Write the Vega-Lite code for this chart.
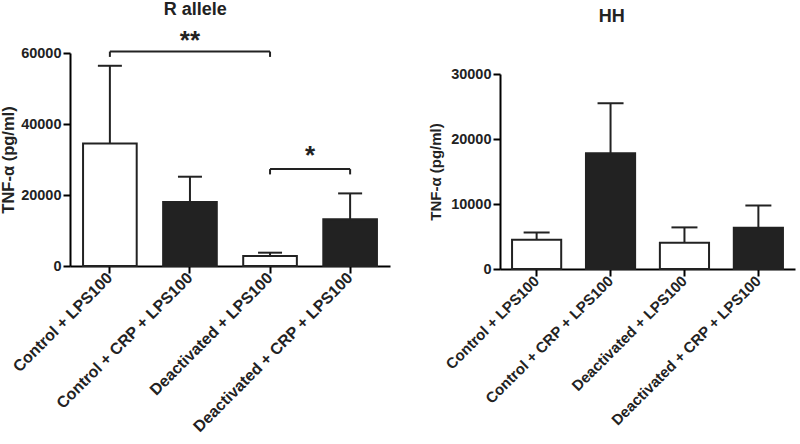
{
  "$schema": "https://vega.github.io/schema/vega-lite/v6.json",
  "padding": {"left": 0, "top": 0, "right": 2, "bottom": 2},
  "background": "white",
  "config": {
    "font": "Liberation Sans",
    "view": {"stroke": null},
    "axis": {"domainColor": "#000000", "tickColor": "#000000", "domainWidth": 2, "tickWidth": 2, "tickSize": 7, "grid": false, "labelColor": "#222222", "titleColor": "#222222", "labelFontWeight": "bold", "titleFontWeight": "bold", "labelFont": "Liberation Sans", "titleFont": "Liberation Sans", "labelLimit": 0},
    "title": {"font": "Liberation Sans", "fontWeight": "bold", "color": "#222222", "fontSize": 18, "frame": "bounds", "anchor": "middle"},
    "concat": {"spacing": 38}
  },
  "datasets": {
    "rallele": [
      {"group": "Control + LPS100", "crp": "no", "value": 34500, "err": 56400},
      {"group": "Control + CRP + LPS100", "crp": "yes", "value": 18000, "err": 25150},
      {"group": "Deactivated + LPS100", "crp": "no", "value": 2800, "err": 3750},
      {"group": "Deactivated + CRP + LPS100", "crp": "yes", "value": 13200, "err": 20450}
    ],
    "hh": [
      {"group": "Control + LPS100", "crp": "no", "value": 4500, "err": 5630},
      {"group": "Control + CRP + LPS100", "crp": "yes", "value": 17800, "err": 25500},
      {"group": "Deactivated + LPS100", "crp": "no", "value": 4040, "err": 6400},
      {"group": "Deactivated + CRP + LPS100", "crp": "yes", "value": 6350, "err": 9780}
    ],
    "brackets": [
      {"from": "Control + LPS100", "to": "Deactivated + LPS100", "y": 60400, "tip": 58900},
      {"from": "Deactivated + LPS100", "to": "Deactivated + CRP + LPS100", "y": 27300, "tip": 25800}
    ],
    "star2": [
      {"at": "Control + CRP + LPS100", "label": "**", "y": 61200}
    ],
    "star1": [
      {"at": "Deactivated + LPS100", "label": "*", "y": 28600}
    ]
  },
  "hconcat": [
    {
      "width": 320,
      "height": 213,
      "title": {"text": "R allele", "offset": 9},
      "layer": [
        {
          "data": {"name": "rallele"},
          "mark": {"type": "rule", "stroke": "#222222", "strokeWidth": 2},
          "encoding": {
            "x": {"field": "group", "type": "nominal", "sort": null},
            "y": {"field": "value", "type": "quantitative"},
            "y2": {"field": "err"}
          }
        },
        {
          "data": {"name": "rallele"},
          "mark": {"type": "tick", "color": "#222222", "thickness": 2, "size": 24, "opacity": 1},
          "encoding": {
            "x": {"field": "group", "type": "nominal", "sort": null},
            "y": {"field": "err", "type": "quantitative"}
          }
        },
        {
          "data": {"name": "rallele"},
          "mark": {"type": "bar", "stroke": "#222222", "strokeWidth": 2},
          "encoding": {
            "x": {"field": "group", "type": "nominal", "sort": null,
              "scale": {"paddingInner": 0.33, "paddingOuter": 0.163},
              "axis": {"title": null, "labelAngle": -45, "labelFontSize": 16, "labelPadding": 2}},
            "y": {"field": "value", "type": "quantitative",
              "scale": {"domain": [0, 60000], "nice": false},
              "axis": {"title": "TNF-α (pg/ml)", "values": [0, 20000, 40000, 60000], "labelFontSize": 14.5, "titleFontSize": 16.5, "labelPadding": 2, "titlePadding": 4, "format": "d"}},
            "color": {"field": "crp", "type": "nominal", "scale": {"domain": ["no", "yes"], "range": ["#ffffff", "#222222"]}, "legend": null}
          }
        },
        {
          "data": {"name": "brackets"},
          "mark": {"type": "rule", "stroke": "#222222", "strokeWidth": 2},
          "encoding": {
            "x": {"field": "from", "type": "nominal", "sort": null},
            "x2": {"field": "to"},
            "y": {"field": "y", "type": "quantitative"}
          }
        },
        {
          "data": {"name": "brackets"},
          "mark": {"type": "rule", "stroke": "#222222", "strokeWidth": 2},
          "encoding": {
            "x": {"field": "from", "type": "nominal", "sort": null},
            "y": {"field": "y", "type": "quantitative"},
            "y2": {"field": "tip"}
          }
        },
        {
          "data": {"name": "brackets"},
          "mark": {"type": "rule", "stroke": "#222222", "strokeWidth": 2},
          "encoding": {
            "x": {"field": "to", "type": "nominal", "sort": null},
            "y": {"field": "y", "type": "quantitative"},
            "y2": {"field": "tip"}
          }
        },
        {
          "data": {"name": "star2"},
          "mark": {"type": "text", "fontSize": 26, "fontWeight": "bold", "color": "#222222", "baseline": "alphabetic"},
          "encoding": {
            "x": {"field": "at", "type": "nominal", "sort": null},
            "y": {"field": "y", "type": "quantitative"},
            "text": {"field": "label"}
          }
        },
        {
          "data": {"name": "star1"},
          "mark": {"type": "text", "fontSize": 26, "fontWeight": "bold", "color": "#222222", "baseline": "alphabetic", "dx": 40},
          "encoding": {
            "x": {"field": "at", "type": "nominal", "sort": null},
            "y": {"field": "y", "type": "quantitative"},
            "text": {"field": "label"}
          }
        }
      ]
    },
    {
      "width": 295,
      "height": 216,
      "title": {"text": "HH", "offset": 27},
      "layer": [
        {
          "data": {"name": "hh"},
          "mark": {"type": "rule", "stroke": "#222222", "strokeWidth": 2},
          "encoding": {
            "x": {"field": "group", "type": "nominal", "sort": null},
            "y": {"field": "value", "type": "quantitative"},
            "y2": {"field": "err"}
          }
        },
        {
          "data": {"name": "hh"},
          "mark": {"type": "tick", "color": "#222222", "thickness": 2, "size": 26, "opacity": 1},
          "encoding": {
            "x": {"field": "group", "type": "nominal", "sort": null},
            "y": {"field": "err", "type": "quantitative"}
          }
        },
        {
          "data": {"name": "hh"},
          "mark": {"type": "bar", "stroke": "#222222", "strokeWidth": 2},
          "encoding": {
            "x": {"field": "group", "type": "nominal", "sort": null,
              "scale": {"paddingInner": 0.335, "paddingOuter": 0.163},
              "axis": {"title": null, "labelAngle": -45, "labelFontSize": 15, "labelPadding": 2}},
            "y": {"field": "value", "type": "quantitative",
              "scale": {"domain": [0, 30000], "nice": false, "range": [216, 21]},
              "axis": {"title": "TNF-α (pg/ml)", "values": [0, 10000, 20000, 30000], "labelFontSize": 14.5, "titleFontSize": 15, "labelPadding": 2, "titlePadding": 7, "format": "d"}},
            "color": {"field": "crp", "type": "nominal", "scale": {"domain": ["no", "yes"], "range": ["#ffffff", "#222222"]}, "legend": null}
          }
        }
      ]
    }
  ]
}
